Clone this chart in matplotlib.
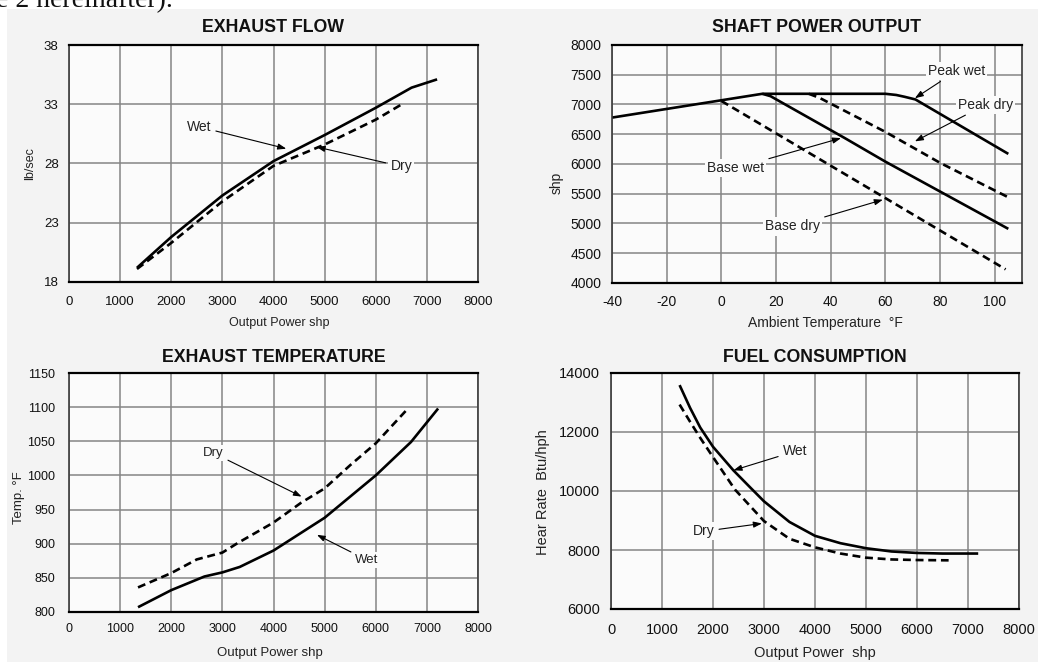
import numpy as np
import matplotlib.pyplot as plt
from matplotlib.patches import Rectangle

plt.rcParams['font.family'] = ['Liberation Sans', 'DejaVu Sans']
plt.rcParams['axes.unicode_minus'] = False

# --- exhaust flow (lb/sec vs output power shp)
flow_wet_x = [1330, 2000, 3000, 4000, 5000, 6000, 6700, 7200]
flow_wet_y = [19.2, 21.8, 25.3, 28.2, 30.4, 32.7, 34.4, 35.1]
flow_dry_x = [1330, 2000, 3000, 4000, 5000, 6000, 6550]
flow_dry_y = [19.1, 21.3, 24.8, 27.8, 29.6, 31.7, 33.1]

# --- shaft power output (shp vs ambient temperature F)
peak_wet_x = [-40, 15, 60, 64, 67, 71, 105]
peak_wet_y = [6780, 7180, 7180, 7160, 7130, 7085, 6170]
peak_dry_x = [32, 36, 60, 80, 105]
peak_dry_y = [7180, 7110, 6540, 6020, 5440]
base_wet_x = [15, 18, 45, 60, 105]
base_wet_y = [7180, 7140, 6440, 6040, 4910]
base_dry_x = [0, 104]
base_dry_y = [7060, 4230]

# --- exhaust temperature (F vs output power shp)
temp_wet_x = [1350, 2000, 2650, 3000, 3340, 4000, 5000, 6000, 6690, 7220]
temp_wet_y = [807, 832, 852, 858, 866, 890, 938, 1000, 1049, 1098]
temp_dry_x = [1350, 2000, 2500, 3000, 3300, 4000, 4540, 5000, 5500, 6000, 6630]
temp_dry_y = [836, 857, 877, 887, 901, 931, 960, 981, 1015, 1047, 1098]

# --- fuel consumption (heat rate vs output power shp)
fuel_wet_x = [1345, 1550, 1750, 2000, 2400, 2730, 3000, 3500, 4000, 4500, 5000, 5500, 6000, 6500, 7200]
fuel_wet_y = [13590, 12820, 12150, 11500, 10700, 10120, 9650, 8950, 8480, 8230, 8060, 7950, 7900, 7880, 7880]
fuel_dry_x = [1345, 1550, 1750, 2000, 2430, 3000, 3500, 4000, 4500, 5000, 5500, 6000, 6620]
fuel_dry_y = [12930, 12350, 11800, 11150, 10050, 8980, 8380, 8090, 7880, 7740, 7680, 7660, 7650]

W, H = 1038, 662
fig = plt.figure(figsize=(W / 100, H / 100), dpi=100, facecolor='white')
fig.add_artist(Rectangle((7 / W, 0), 1, 1 - 9 / H, transform=fig.transFigure,
                         facecolor='#f3f3f3', edgecolor='none', zorder=-5))
fig.text(-0.004, 1 - 7 / H, 'e 2 hereinafter).', family=['Liberation Serif', 'DejaVu Serif'],
         fontsize=20, ha='left', va='baseline', color='#111111')

SOLID = dict(color='black', lw=1.9, solid_capstyle='butt')
DASHED = dict(color='black', lw=1.9, linestyle=(0, (3, 1.8)), dash_capstyle='butt')
BOX = dict(boxstyle='square,pad=0.15', facecolor='#fbfbfb', edgecolor='none')


def make_ax(l, r, t, b):
    return fig.add_axes([l / W, 1 - b / H, (r - l) / W, (b - t) / H])


def style(ax, title, xlab, ylab, xlim, ylim, xticks, yticks, tfs, lfs,
          xpad, ypad, tpad, xlab_pos, ylab_pos):
    ax.set_facecolor('#fbfbfb')
    ax.set_xlim(*xlim)
    ax.set_ylim(*ylim)
    ax.set_xticks(xticks)
    ax.set_yticks(yticks)
    ax.tick_params(axis='x', length=0, pad=xpad, labelsize=tfs, labelcolor='#111111')
    ax.tick_params(axis='y', length=0, pad=ypad, labelsize=tfs, labelcolor='#111111')
    ax.grid(True, color='#858585', lw=1.1)
    ax.set_axisbelow(True)
    for side in ['top', 'bottom']:
        ax.spines[side].set_color('black')
        ax.spines[side].set_linewidth(1.6)
    for side in ['left', 'right']:
        ax.spines[side].set_color('#3a3a3a')
        ax.spines[side].set_linewidth(1.2)
    ax.set_title(title, fontsize=12.8, fontweight='bold', color='#111111', pad=tpad)
    ax.set_xlabel(xlab, fontsize=lfs, color='#222222', va='center')
    ax.set_ylabel(ylab, fontsize=lfs, color='#222222', va='center')
    ax.xaxis.set_label_coords(*xlab_pos)
    ax.yaxis.set_label_coords(*ylab_pos)


def note(ax, text, xy, xytext, fs):
    ax.annotate(text, xy=xy, xytext=xytext, fontsize=fs, color='#222222',
                ha='center', va='center', bbox=BOX,
                arrowprops=dict(arrowstyle='-|>,head_length=0.5,head_width=0.18',
                                color='black', lw=0.8, shrinkA=2, shrinkB=0))


# panel 1: exhaust flow
ax1 = make_ax(69, 478, 45, 282)
style(ax1, 'EXHAUST FLOW', 'Output Power shp', 'lb/sec', (0, 8000), (18, 38),
      np.arange(0, 8001, 1000), np.arange(18, 39, 5), 9.5, 9,
      10, 7.5, 9, (0.515, -0.172), (-0.095, 0.5))
ax1.plot(flow_dry_x, flow_dry_y, **DASHED)
ax1.plot(flow_wet_x, flow_wet_y, **SOLID)
note(ax1, 'Wet', (4250, 29.25), (2540, 31.1), 10)
note(ax1, 'Dry', (4840, 29.4), (6500, 27.75), 10)

# panel 2: shaft power output
ax2 = make_ax(612, 1022, 45, 283)
style(ax2, 'SHAFT POWER OUTPUT', 'Ambient Temperature  \u00b0F', 'shp', (-40, 110), (4000, 8000),
      np.arange(-40, 101, 20), np.arange(4000, 8001, 500), 10, 10,
      8.5, 7.5, 9, (0.52, -0.167), (-0.135, 0.42))
ax2.plot(base_dry_x, base_dry_y, **DASHED)
ax2.plot(peak_dry_x, peak_dry_y, **DASHED)
ax2.plot(base_wet_x, base_wet_y, **SOLID)
ax2.plot(peak_wet_x, peak_wet_y, **SOLID)
note(ax2, 'Peak wet', (70.8, 7105), (86.1, 7565), 10)
note(ax2, 'Peak dry', (70.8, 6380), (96.6, 6995), 10)
note(ax2, 'Base wet', (43.8, 6435), (5.2, 5930), 10)
note(ax2, 'Base dry', (59.1, 5400), (26, 4950), 10)

# panel 3: exhaust temperature
ax3 = make_ax(69, 478, 373, 612)
style(ax3, 'EXHAUST TEMPERATURE', 'Output Power shp', 'Temp. \u00b0F', (0, 8000), (800, 1150),
      np.arange(0, 8001, 1000), np.arange(800, 1151, 50), 9, 9.5,
      8, 10, 8, (0.49, -0.17), (-0.122, 0.48))
ax3.plot(temp_dry_x, temp_dry_y, **DASHED)
ax3.plot(temp_wet_x, temp_wet_y, **SOLID)
note(ax3, 'Dry', (4550, 969), (2820, 1033), 9.5)
note(ax3, 'Wet', (4850, 913), (5830, 876), 9.5)

# panel 4: fuel consumption
ax4 = make_ax(611, 1019, 373, 609)
style(ax4, 'FUEL CONSUMPTION', 'Output Power  shp', 'Hear Rate  Btu/hph', (0, 8000), (6000, 14000),
      np.arange(0, 8001, 1000), np.arange(6000, 14001, 2000), 10.5, 10.5,
      10, 8, 8, (0.5, -0.185), (-0.167, 0.495))
ax4.plot(fuel_dry_x, fuel_dry_y, **DASHED)
ax4.plot(fuel_wet_x, fuel_wet_y, **SOLID)
note(ax4, 'Wet', (2400, 10700), (3610, 11345), 10)
note(ax4, 'Dry', (2960, 8900), (1810, 8630), 10)

fig.savefig('out.png', dpi=100, facecolor=fig.get_facecolor())
